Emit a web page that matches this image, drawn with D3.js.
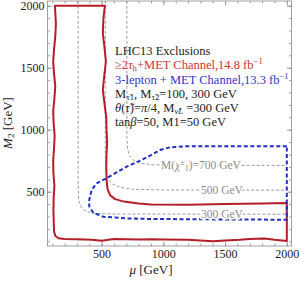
<!DOCTYPE html>
<html>
<head>
<meta charset="utf-8">
<script src="https://cdn.jsdelivr.net/npm/d3@7"></script>
<style>
  body { margin: 0; background: #fff; }
  svg { display: block; font-family: "Liberation Serif", "DejaVu Serif", serif; }
</style>
</head>
<body>
<div id="root"></div>
<script>
// tick values
const muTicks = [500, 1000, 1500, 2000];
const m2Ticks = [500, 1000, 1500, 2000];

// >=2 tau_h + MET exclusion contour (mu, M2 in GeV)
const redMu = [122, 527, 515, 510, 525, 535, 520, 510, 525, 538, 540, 545, 540, 538, 540, 548, 570, 610, 680, 800, 900, 1200, 1500, 1800, 2000,
  2000, 1900, 1820, 1700, 1620, 1500, 1400, 1300, 1200, 1000, 900, 800, 700, 600, 500, 420, 300, 200, 150, 125, 115,
  110, 112, 118, 110, 108, 115, 120, 112, 108, 118, 125, 115, 108, 115, 125, 130, 125, 122];
const redM2 = [2000, 2000, 1900, 1780, 1650, 1550, 1420, 1320, 1200, 1100, 1000, 900, 800, 700, 600, 520, 470, 440, 420, 405, 397, 395, 400, 405, 408,
  102, 112, 122, 118, 112, 106, 100, 106, 112, 114, 116, 114, 116, 118, 104, 112, 116, 118, 125, 145, 180,
  350, 450, 550, 650, 750, 850, 950, 1050, 1150, 1250, 1350, 1450, 1550, 1650, 1750, 1850, 1950, 2000];

// 3-lepton + MET exclusion contour
const blueMu = [2000, 1175, 1054, 973, 892, 800, 703, 620, 541, 460, 420, 400, 400, 433, 514, 700, 892, 1500, 2000, 2000];
const blueM2 = [866, 866, 858, 837, 790, 745, 702, 655, 609, 568, 514, 434, 381, 330, 298, 285, 280, 276, 274, 866];

// chargino mass contours
const c300Mu = [310, 310, 312, 320, 340, 380, 450, 600, 2000];
const c300M2 = [2040, 600, 470, 410, 365, 340, 325, 320, 318];
const c500Mu = [530, 530, 535, 550, 590, 650, 750, 1000, 2000];
const c500M2 = [2040, 800, 680, 600, 560, 535, 520, 514, 512];
const c700Mu = [705, 705, 710, 725, 760, 820, 900, 1100, 2000];
const c700M2 = [2040, 950, 850, 790, 755, 730, 718, 713, 712];

const W = 300, H = 283;
const x = d3.scaleLinear().domain([62, 2038]).range([47.5, 291.5]);
const y = d3.scaleLinear().domain([62, 2038]).range([246, 1]);

const svg = d3.select("#root").append("svg").attr("width", W).attr("height", H);

svg.append("defs").append("clipPath").attr("id", "plot")
  .append("rect")
  .attr("x", x.range()[0]).attr("y", y.range()[1])
  .attr("width", x.range()[1] - x.range()[0])
  .attr("height", y.range()[0] - y.range()[1]);

const frameColor = "#8a8a8a";
const minor = d3.range(100, 2001, 100);

function drawAxis(axisFn, scale, transform, ticks, labels) {
  const gMin = svg.append("g").attr("transform", transform)
    .call(axisFn(scale).tickValues(minor).tickSize(-2.5).tickFormat(""));
  const gMaj = svg.append("g").attr("transform", transform)
    .call(axisFn(scale).tickValues(ticks).tickSize(-4.5).tickPadding(3)
      .tickFormat(labels ? d3.format("d") : ""));
  [gMin, gMaj].forEach(g => {
    g.select(".domain").remove();
    g.selectAll("line").attr("stroke", frameColor).attr("stroke-width", 0.8);
    g.selectAll("text").attr("font-family", "Liberation Serif, serif")
      .attr("font-size", 12).attr("fill", "#222");
  });
}
drawAxis(d3.axisBottom, x, `translate(0,${y.range()[0]})`, muTicks, true);
drawAxis(d3.axisTop, x, `translate(0,${y.range()[1]})`, muTicks, false);
drawAxis(d3.axisLeft, y, `translate(${x.range()[0]},0)`, m2Ticks, true);
drawAxis(d3.axisRight, y, `translate(${x.range()[1]},0)`, m2Ticks, false);

svg.append("rect")
  .attr("x", x.range()[0]).attr("y", y.range()[1])
  .attr("width", x.range()[1] - x.range()[0])
  .attr("height", y.range()[0] - y.range()[1])
  .attr("fill", "none").attr("stroke", frameColor).attr("stroke-width", 0.8);

const plot = svg.append("g").attr("clip-path", "url(#plot)");
const line = d3.line().x(d => x(d[0])).y(d => y(d[1]));
const zip = (a, b) => a.map((v, i) => [v, b[i]]);

// gray chargino contours
[[c300Mu, c300M2], [c500Mu, c500M2], [c700Mu, c700M2]].forEach(([m, n]) => {
  plot.append("path").attr("d", line(zip(m, n)))
    .attr("fill", "none").attr("stroke", "#9a9a9a")
    .attr("stroke-width", 1).attr("stroke-dasharray", "3,2");
});

function rich(parent, px, py, parts, color, size, anchor) {
  const t = parent.append("text").attr("x", px).attr("y", py)
    .attr("fill", color).attr("font-size", size)
    .attr("text-anchor", anchor || "start");
  let cur = 0;
  parts.forEach(p => {
    const shift = p.sub ? size * 0.16 : p.sup ? -size * 0.38 : 0;
    t.append("tspan")
      .attr("dy", shift - cur)
      .attr("font-size", (p.sub || p.sup) ? size * 0.7 : size)
      .attr("font-style", p.i ? "italic" : null)
      .text(p.t);
    cur = shift;
  });
  return t;
}

// contour labels with white halo to break the dashes
const halo = t => t.attr("stroke", "#fff").attr("stroke-width", 3).attr("paint-order", "stroke");
halo(rich(svg, x(1305), y(712) + 4, [{t: "M("}, {t: "χ\u0303", i: true}, {t: "±", sup: true}, {t: "1", sub: true}, {t: ")=700 GeV"}], "#8c8c8c", 11.5, "middle"));
halo(rich(svg, x(1475), y(512) + 4, [{t: "500 GeV"}], "#8c8c8c", 11.5, "middle"));
halo(rich(svg, x(1475), y(320) + 4, [{t: "300 GeV"}], "#8c8c8c", 11.5, "middle"));

// exclusion contours
plot.append("path").attr("d", line(zip(redMu, redM2)) + "Z")
  .attr("fill", "none").attr("stroke", "#b41e28")
  .attr("stroke-width", 2).attr("stroke-linejoin", "round");
plot.append("path").attr("d", line(zip(blueMu, blueM2)))
  .attr("fill", "none").attr("stroke", "#1f2fc4")
  .attr("stroke-width", 2).attr("stroke-dasharray", "4,2.5");

// legend text
const lx = 115, fs = 12.5;
rich(svg, lx, 55, [{t: "LHC13 Exclusions"}], "#222", fs);
rich(svg, lx, 68.5, [{t: "≥2"}, {t: "τ", i: true}, {t: "h", sub: true}, {t: "+MET Channel,14.8 fb"}, {t: "−1", sup: true}], "#cc3333", fs);
rich(svg, lx, 84, [{t: "3-lepton + MET Channel,13.3 fb"}, {t: "−1", sup: true}], "#3333cc", fs);
rich(svg, lx, 97.5, [{t: "M"}, {t: "τ\u03031", sub: true}, {t: ", M"}, {t: "τ\u03032", sub: true}, {t: "=100, 300 GeV"}], "#222", fs);
rich(svg, lx, 112, [{t: "θ", i: true}, {t: "("}, {t: "τ\u0303", i: true}, {t: ")="}, {t: "π", i: true}, {t: "/4, M"}, {t: "ν\u0303", sub: true, i: true}, {t: "L", sub: true, i: true}, {t: " =300 GeV"}], "#222", fs);
rich(svg, lx, 125.5, [{t: "tan"}, {t: "β", i: true}, {t: "=50, M1=50 GeV"}], "#222", fs);

// axis titles
rich(svg, 151, 274, [{t: "μ", i: true}, {t: " [GeV]"}], "#222", 13, "middle");
rich(svg.append("g").attr("transform", "translate(12,123) rotate(-90)"), 0, 0,
  [{t: "M", i: true}, {t: "2", sub: true}, {t: " [GeV]"}], "#222", 13, "middle");
</script>
</body>
</html>
